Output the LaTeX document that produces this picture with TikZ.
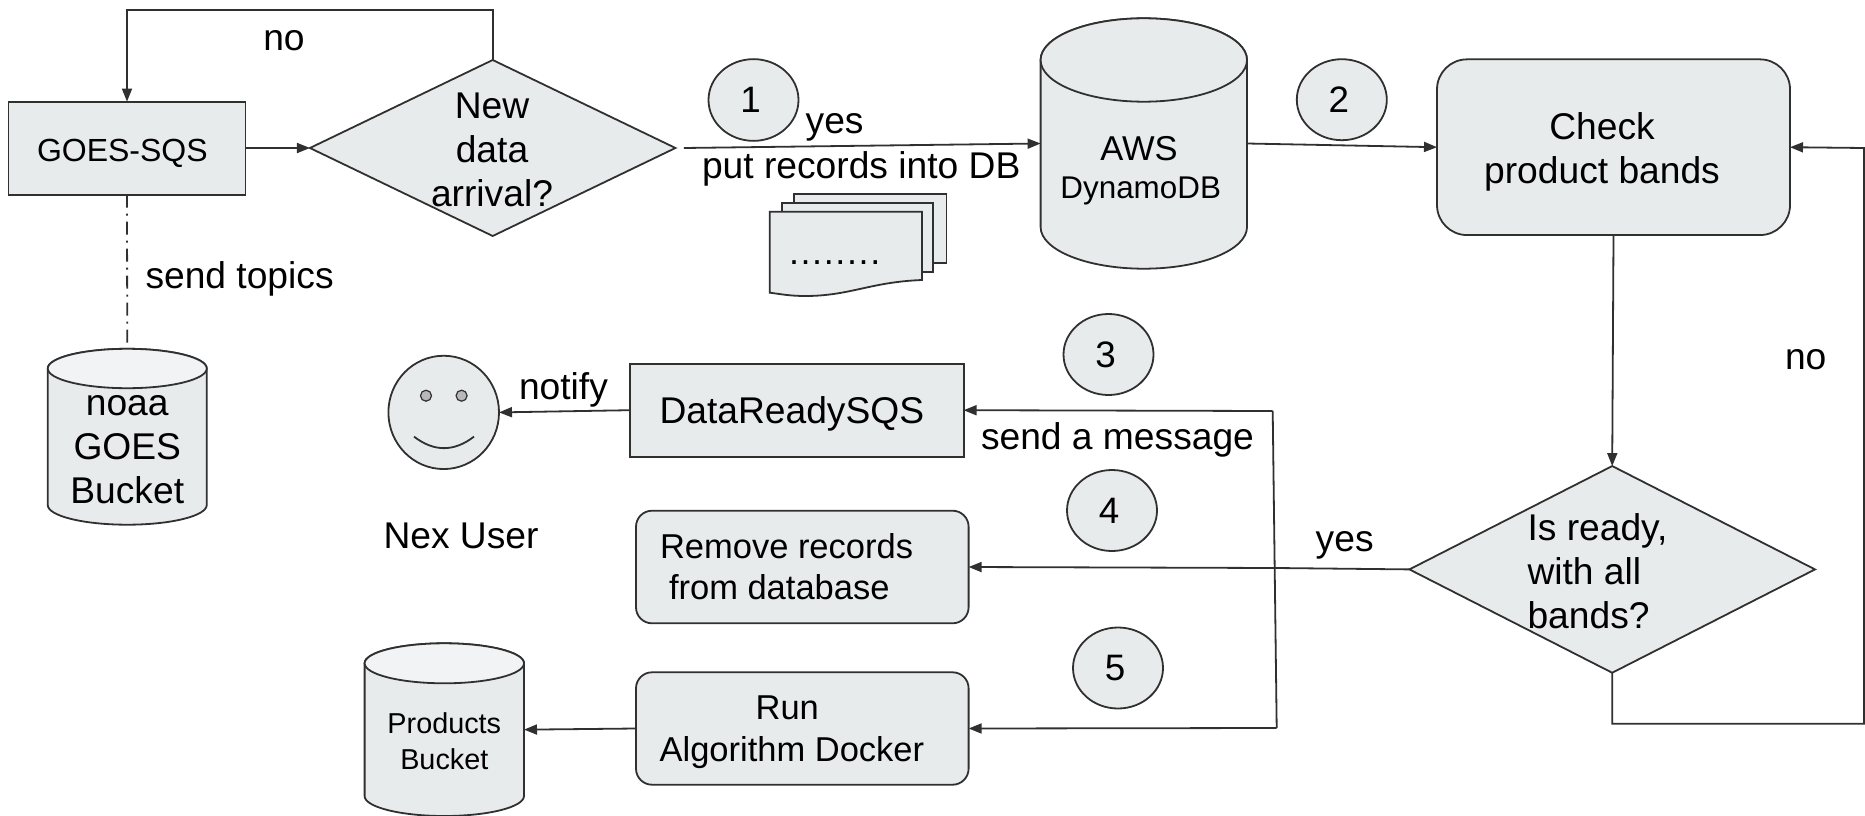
\documentclass[tikz,border=0pt]{standalone}
\usepackage{fontspec}
\setmainfont{Liberation Sans}
\usetikzlibrary{shapes.geometric,arrows.meta}
\definecolor{ln}{HTML}{303030}
\definecolor{bx}{HTML}{E8EBEC}
\definecolor{cp}{HTML}{F1F3F4}
\newcommand\cylshape[7]{% name, cx, rx, ry, cap centre y, side bottom y, cap fill
  \path[shp] (#2-#3,#5) -- (#2-#3,#6) arc[start angle=180,end angle=360,x radius=#3pt,y radius=#4pt] -- (#2+#3,#5) arc[start angle=0,end angle=180,x radius=#3pt,y radius=#4pt] -- cycle;
  \path[shp,fill=#7] (#2,#5) ellipse[x radius=#3pt,y radius=#4pt];
  \node[minimum width=2*#3pt,minimum height=(#6-#5+2*#4)*1pt,inner sep=0pt,outer sep=0pt] (#1) at (#2,{(#5+#6)/2}) {};
}
\newcommand\digitleft{\hspace*{-6pt}}
\tikzset{
  x=1pt,y=-1pt,
  shp/.style={draw=ln,fill=bx,line width=1.8pt},
  sq/.style={shp,inner sep=0pt,outer sep=0pt},
  rbox/.style={sq,rectangle,rounded corners=#1},
  dia/.style={sq,diamond},
  ell/.style={sq,ellipse,font=\fontsize{36.8}{44}\selectfont},
  txt/.style={inner sep=0pt,outer sep=0pt,text=black,anchor=base west,font=\fontsize{37.2}{44}\selectfont},
  ctxt/.style={txt,anchor=base},
  con/.style={draw=ln,line width=1.8pt},
  arr/.style={con,-{Triangle[length=13pt,width=10pt]}},
}
\begin{document}
\begin{tikzpicture}
\useasboundingbox (0,0) rectangle (1865,816);
% shapes
\node[sq,rectangle,minimum width=237pt,minimum height=93pt] (goes) at (127,148.1) {};
\node[dia,minimum width=365.5pt,minimum height=176pt,shape aspect=2.077] (d1) at (492.7,148) {};
\cylshape{noaa}{127.25}{79.5}{19.7}{368.5}{505}{cp}
\cylshape{aws}{1143.8}{103.2}{41.7}{60}{227}{bx}
\cylshape{prod}{444.3}{79.7}{20}{663.3}{796}{cp}
\node[ell,minimum width=90pt,minimum height=81.7pt] (c1) at (753.5,100) {\digitleft 1};
\node[ell,minimum width=90pt,minimum height=81pt] (c2) at (1341.8,99.7) {\digitleft 2};
\node[ell,minimum width=90pt,minimum height=81pt] (c3) at (1108.5,354.5) {\digitleft 3};
\node[ell,minimum width=90pt,minimum height=81pt] (c4) at (1112,510.5) {\digitleft 4};
\node[ell,minimum width=90pt,minimum height=81pt] (c5) at (1118,668) {\digitleft 5};
\node[rbox=30pt,minimum width=353pt,minimum height=175.7pt] (check) at (1613.5,147.2) {};
\node[dia,minimum width=405.6pt,minimum height=206.7pt,shape aspect=1.962] (d2) at (1612.2,569.4) {};
\node[sq,rectangle,minimum width=333.6pt,minimum height=93pt] (dataready) at (796.8,410.2) {};
\node[rbox=16pt,minimum width=332.6pt,minimum height=112.6pt] (remove) at (802.3,567) {};
\node[rbox=16pt,minimum width=332.6pt,minimum height=112.4pt] (run) at (802.3,728.5) {};
\node[sq,ellipse,minimum width=110.6pt,minimum height=113.3pt] (face) at (443.7,412.4) {};
\node[sq,ellipse,fill=black!28,line width=1.2pt,minimum width=11pt,minimum height=11pt] (eyeL) at (426,395.7) {};
\node[sq,ellipse,fill=black!28,line width=1.2pt,minimum width=11pt,minimum height=11pt] (eyeR) at (461.6,395.7) {};
\draw[con] (414,436.6) .. controls (434,452) and (454,452) .. (474,436.6);
% document stack
\path[shp] (794,194) -- (946.5,194) -- (946.5,262.7) -- (900,262.7) -- (794,262.7) -- cycle;
\path[shp] (782,202.7) -- (933,202.7) -- (933,271.7) -- (782,271.7) -- cycle;
\path[shp] (769.8,211.7) -- (922,211.7) -- (922,280) .. controls (870,282) and (850,296) .. (805,296) .. controls (790,296) and (780,294) .. (769.8,292.7) -- cycle;
% helper points
\coordinate (dout) at ([xshift=8.5pt]d1.east);
\coordinate (br) at (1864,723.7);
\coordinate (tr) at (1864,148);
\coordinate (jt) at (1272.7,411);
\coordinate (jm) at (1276,568);
\coordinate (jb) at (1276.7,728);
% connectors
\draw[arr] (goes.east) -- (d1.west);
\draw[arr] (d1.north) -- ++(0,-50) -| (goes.north);
\draw[con,shorten >=6pt,dash pattern=on 13pt off 6pt on 2pt off 6pt] (goes.south) -- (noaa.north);
\draw[arr] (dout) -- (aws.west);
\draw[arr] (aws.east) -- (check.west);
\draw[arr] (check.south) -- (d2.north);
\draw[arr] (d2.south) |- (br) -- (tr) -- (check.east);
\draw[con] (d2.west) -- (jm);
\draw[con] (jt) -- (jb);
\draw[arr] (jt) -- (dataready.east);
\draw[arr] (jm) -- (remove.east);
\draw[arr] (jb) -- (run.east);
\draw[arr] (dataready.west) -- (face.east);
\draw[arr] (run.west) -- (prod.east);
% texts
\node[txt,font=\fontsize{32}{38}\selectfont] (tgoes) at (37,161) {GOES-SQS};
\node[ctxt] (tno1) at (284,50.5) {no};
\node[ctxt,align=center] (tnew) at (492,206.6) {New\\data\\arrival?};
\node[txt] (tsend) at (145.5,288) {send topics};
\node[ctxt,align=center] (tnoaa) at (127.25,503.5) {noaa\\GOES\\Bucket};
\node[txt] (tyes1) at (805.7,133.3) {yes};
\node[txt] (tput) at (702,178.7) {put records into DB};
\node[txt,font=\fontsize{36}{44}\addfontfeature{LetterSpace=4.5}\selectfont] (tdots) at (789,264.5) {........};
\node[ctxt,font=\fontsize{34.5}{42}\selectfont] (taws) at (1139,160.3) {AWS};
\node[ctxt,font=\fontsize{31.4}{38}\selectfont] (tdyn) at (1140.7,198.3) {DynamoDB};
\node[ctxt,align=center] (tcheck) at (1602,183.5) {Check\\product bands};
\node[txt] (tno2) at (1785,369) {no};
\node[txt] (tyes2) at (1315.7,551) {yes};
\node[txt,align=left] (tready) at (1527.5,628.2) {Is ready,\\with all\\bands?};
\node[txt] (tmsg) at (981,449.5) {send a message};
\node[txt] (tdrs) at (659.5,423) {DataReadySQS};
\node[txt] (tnotify) at (519,399.5) {notify};
\node[txt] (tuser) at (383.5,548.5) {Nex User};
\node[txt,align=left,font=\fontsize{34.5}{41.5}\selectfont] (trem) at (660,599.5) {Remove records\\\hspace*{9pt}from database};
\node[txt,align=left,font=\fontsize{34.5}{42.4}\selectfont] (trun) at (659.6,761.7) {\hspace*{96pt}Run\\Algorithm Docker};
\node[ctxt,align=center,font=\fontsize{28.8}{36}\selectfont] (tprod) at (444.3,769.3) {Products\\Bucket};
\end{tikzpicture}
\end{document}
